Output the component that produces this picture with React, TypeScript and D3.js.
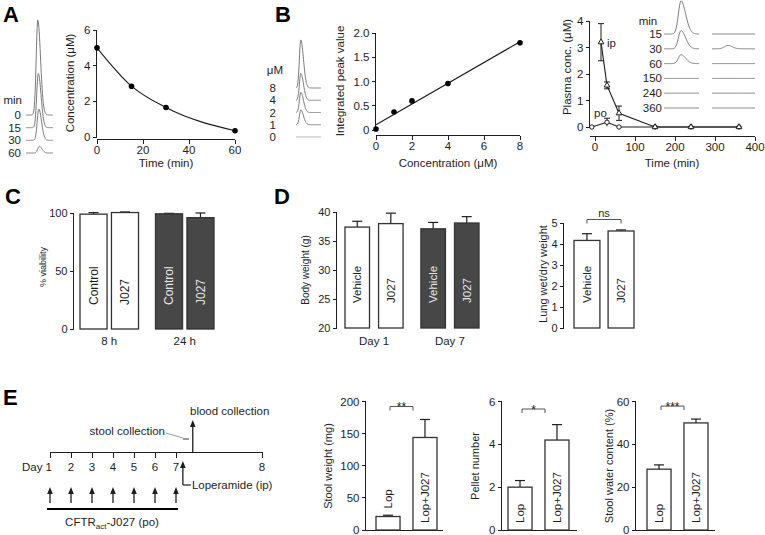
import React from "react";
import * as d3 from "d3";

const FONT = "'Liberation Sans', Arial, Helvetica, sans-serif";
const INK = "#1e1e1e";
const DARK = "#474747";
const TRACE = "#7a7a7a";

// ---------------- data ----------------
// Panel A: stability over time
const timeA = [0, 15, 30, 60];
const concA = [5.0, 2.85, 1.65, 0.35];
const traceLabelsA = ["0", "15", "30", "60"];

// Panel B: standard curve
const concB = [0, 1, 2, 4, 8];
const peakB = [0.02, 0.37, 0.6, 0.96, 1.8];
const traceLabelsB = ["8", "4", "2", "1", "0"];
const traceHeightsB = [1.0, 0.56, 0.42, 0.31, 0];

// Panel B: plasma pharmacokinetics
const timeIp = [15, 30, 60, 150, 240, 360];
const ipMean = [3.2, 1.57, 0.52, 0, 0, 0];
const ipErr = [0.7, 0.13, 0.27, 0, 0, 0];
const timePo = [-8, 30, 60, 150, 240, 360];
const poMean = [0, 0.18, 0, 0, 0, 0];
const poErr = [0, 0.15, 0, 0, 0, 0];
const plasmaTraceLabels = ["15", "30", "60", "150", "240", "360"];
const plasmaTraceIp = [1.0, 0.55, 0.27, 0, 0, 0];
const plasmaTracePo = [0, 0.1, 0, 0, 0, 0];

// Panel C: viability
const groupsC = ["8 h", "24 h"];
const condC = ["Control", "J027"];
const viabMean = [[99.0, 100.4], [99.3, 96.0]];
const viabErr = [[1.3, 0.5], [0.4, 4.0]];

// Panel D: body weight and lung
const groupsD = ["Day 1", "Day 7"];
const condD = ["Vehicle", "J027"];
const bwMean = [[37.4, 38.0], [37.1, 38.1]];
const bwErr = [[1.0, 1.8], [1.1, 1.1]];
const lungCond = ["Vehicle", "J027"];
const lungMean = [4.17, 4.62];
const lungErr = [0.32, 0.05];

// Panel E: protocol + constipation
const days = [1, 2, 3, 4, 5, 6, 7, 8];
const doseDays = [1, 2, 3, 4, 5, 6, 7];
const loperamideDay = 7.08;
const bloodDay = 7.195;
const stoolWindow = [7.08, 7.15];
const condE = ["Lop", "Lop+J027"];
const stoolMean = [21, 144];
const stoolErr = [2, 28];
const pelletMean = [2.0, 4.2];
const pelletErr = [0.31, 0.72];
const waterMean = [28.4, 50.0];
const waterErr = [2.0, 1.8];

// ---------------- helpers ----------------
type Lin = d3.ScaleLinear<number, number>;

function YAxis({ scale, x, ticks, fmt, fs = 11 }: { scale: Lin; x: number; ticks: number[]; fmt?: (v: number) => string; fs?: number }) {
  const [a, b] = scale.range();
  return (
    <g shapeRendering="crispEdges">
      <line x1={x} x2={x} y1={Math.min(a, b)} y2={Math.max(a, b)} stroke={INK} />
      {ticks.map((t) => (
        <g key={t}>
          <line x1={x - 4} x2={x} y1={scale(t)} y2={scale(t)} stroke={INK} />
          <text x={x - 6} y={scale(t)} dy="0.35em" textAnchor="end" fontSize={fs} fill={INK}>
            {fmt ? fmt(t) : String(t)}
          </text>
        </g>
      ))}
    </g>
  );
}

function XAxis({ scale, y, ticks, x0, x1, fs = 11 }: { scale: Lin; y: number; ticks: number[]; x0?: number; x1?: number; fs?: number }) {
  const [a, b] = scale.range();
  return (
    <g shapeRendering="crispEdges">
      <line x1={x0 ?? a} x2={x1 ?? b} y1={y} y2={y} stroke={INK} />
      {ticks.map((t) => (
        <g key={t}>
          <line x1={scale(t)} x2={scale(t)} y1={y} y2={y + 4} stroke={INK} />
          <text x={scale(t)} y={y + 6} dy="0.75em" textAnchor="middle" fontSize={fs} fill={INK}>
            {String(t)}
          </text>
        </g>
      ))}
    </g>
  );
}

function peakPath(x0: number, x1: number, xp: number, base: number, h: number, sigma: number, tail = 0.6) {
  const n = 90;
  const pts: [number, number][] = d3.range(n + 1).map((i) => {
    const x = x0 + ((x1 - x0) * i) / n;
    const dx = x - xp;
    const s = dx < 0 ? sigma : sigma * (1 + tail);
    return [x, base - h * Math.exp((-dx * dx) / (2 * s * s))];
  });
  return d3.line()(pts) || "";
}

function VLabel({ x, y, text, fs = 11, color = INK, anchor = "start", weight = "normal" }: any) {
  return (
    <text transform={`translate(${x},${y}) rotate(-90)`} textAnchor={anchor} dy="0.35em" fontSize={fs} fill={color} fontWeight={weight}>
      {text}
    </text>
  );
}

function Bar({ x, w, y0, y, err, fill, yScale }: any) {
  const top = yScale(y);
  const et = yScale(y + err);
  const cx = x + w / 2;
  return (
    <g>
      {err > 0 && (
        <g stroke={INK} strokeWidth={1.2}>
          <line x1={cx} x2={cx} y1={top} y2={et} />
          <line x1={cx - 5} x2={cx + 5} y1={et} y2={et} />
        </g>
      )}
      <rect x={x} y={top} width={w} height={y0 - top} fill={fill} stroke="#333" strokeWidth={1.3} />
    </g>
  );
}

function Bracket({ x1, x2, y, label, fs = 11, star = false }: any) {
  return (
    <g>
      <path d={`M${x1},${y + 4}V${y}H${x2}V${y + 4}`} fill="none" stroke="#555" strokeWidth={1} />
      <text x={(x1 + x2) / 2} y={star ? y + 5 : y - 3} textAnchor="middle" fontSize={star ? 12 : fs} fill={INK}>
        {label}
      </text>
    </g>
  );
}

function Arrow({ x, y1, y2, w = 1.3 }: any) {
  return (
    <g>
      <line x1={x} x2={x} y1={y1} y2={y2 + 5} stroke={INK} strokeWidth={w} />
      <path d={`M${x - 2.8},${y2 + 7}L${x},${y2}L${x + 2.8},${y2 + 7}Z`} fill={INK} />
    </g>
  );
}

// ---------------- panels ----------------
function PanelA() {
  const x = d3.scaleLinear().domain([0, 60]).range([97, 235]);
  const y = d3.scaleLinear().domain([0, 6]).range([137, 30]);
  const line = d3
    .line<number>()
    .x((_, i) => x(timeA[i]))
    .y((d) => y(d))
    .curve(d3.curveMonotoneX);
  const rowY = d3.scaleLinear().domain([0, traceLabelsA.length - 1]).range([115, 153]);
  const hScale = d3.scaleLinear().domain([0, 5]).range([0, 95]);
  return (
    <g>
      <text x={3} y={22} fontSize={22} fontWeight="bold" fill="#000">A</text>
      <text x={22} y={100} dy="0.35em" textAnchor="end" fontSize={11.5} fill={INK}>min</text>
      {traceLabelsA.map((l, i) => (
        <g key={l}>
          <text x={21} y={rowY(i)} dy="0.35em" textAnchor="end" fontSize={11.5} fill={INK}>{l}</text>
          <path d={peakPath(26, 53, 37.8 + i * 0.5, rowY(i), hScale(concA[i]), 1.6, 0.7)} fill="none" stroke={TRACE} strokeWidth={1} />
        </g>
      ))}
      <YAxis scale={y} x={96.5} ticks={[0, 2, 4, 6]} fs={11.5} />
      <XAxis scale={x} y={139.5} ticks={[0, 20, 40, 60]} fs={11.5} />
      <path d={line(concA) || ""} fill="none" stroke={INK} strokeWidth={1.1} />
      {concA.map((c, i) => (
        <circle key={i} cx={x(timeA[i])} cy={y(c)} r={2.8} fill="#000" />
      ))}
      <VLabel x={70} y={83} text="Concentration (μM)" anchor="middle" fs={11.5} />
      <text x={166} y={167} textAnchor="middle" fontSize={11.5} fill={INK}>Time (min)</text>
    </g>
  );
}

function PanelB() {
  const x = d3.scaleLinear().domain([0, 8]).range([376, 520]);
  const y = d3.scaleLinear().domain([0, 2]).range([130, 33]);
  const mx = d3.mean(concB)!;
  const my = d3.mean(peakB)!;
  const slope = d3.sum(concB, (c, i) => (c - mx) * (peakB[i] - my)) / d3.sum(concB, (c) => (c - mx) ** 2);
  const icpt = my - slope * mx;
  const rowY = d3.scaleLinear().domain([0, traceLabelsB.length - 1]).range([88, 137]);
  const hB = d3.scaleLinear().domain([0, 1]).range([0, 48]);
  return (
    <g>
      <text x={275} y={22} fontSize={22} fontWeight="bold" fill="#000">B</text>
      <text x={283} y={70} dy="0.35em" textAnchor="end" fontSize={11.5} fill={INK}>μM</text>
      {traceLabelsB.map((l, i) => (
        <g key={l}>
          <text x={276} y={rowY(i)} dy="0.35em" textAnchor="end" fontSize={11.5} fill={INK}>{l}</text>
          <path
            d={peakPath(296, 321, 300.8, rowY(i), hB(traceHeightsB[i]), 1.4, 0.9)}
            fill="none"
            stroke={traceHeightsB[i] > 0 ? TRACE : "#aaa"}
            strokeWidth={1}
          />
        </g>
      ))}
      <YAxis scale={y} x={375.5} ticks={[0, 0.5, 1, 1.5, 2]} fmt={(v) => (v === 0 ? "0" : v.toFixed(1))} fs={11.5} />
      <XAxis scale={x} y={135.5} ticks={[0, 2, 4, 6, 8]} fs={11.5} />
      <line x1={x(0)} x2={x(8)} y1={y(icpt)} y2={y(icpt + slope * 8)} stroke={INK} strokeWidth={1.1} />
      {peakB.map((p, i) => (
        <circle key={i} cx={x(concB[i])} cy={y(p)} r={2.8} fill="#000" />
      ))}
      <VLabel x={340} y={81} text="Integrated peak value" anchor="middle" fs={11.5} />
      <text x={448} y={167} textAnchor="middle" fontSize={11.5} fill={INK}>Concentration (μM)</text>
    </g>
  );
}

function PanelPlasma() {
  const x = d3.scaleLinear().domain([0, 400]).range([595, 755]);
  const y = d3.scaleLinear().domain([0, 4]).range([127, 21]);
  const ln = d3.line<[number, number]>().x((d) => x(d[0])).y((d) => y(d[1]));
  const tri = d3.symbol(d3.symbolTriangle).size(14)();
  const rowY = d3.scaleLinear().domain([0, plasmaTraceLabels.length - 1]).range([34, 108]);
  const hP = d3.scaleLinear().domain([0, 1]).range([0, 33]);
  return (
    <g>
      <text x={648} y={21} dy="0.35em" textAnchor="middle" fontSize={11.5} fill={INK}>min</text>
      {plasmaTraceLabels.map((l, i) => (
        <g key={l}>
          <text x={662} y={rowY(i)} dy="0.35em" textAnchor="end" fontSize={11.5} fill={INK}>{l}</text>
          <path d={peakPath(664, 699, 681, rowY(i), hP(plasmaTraceIp[i]), 2.6, 0.8)} fill="none" stroke={TRACE} strokeWidth={1} />
          <path d={peakPath(712, 755, 728, rowY(i), hP(plasmaTracePo[i]), 3.5, 0.2)} fill="none" stroke={TRACE} strokeWidth={1} />
        </g>
      ))}
      <YAxis scale={y} x={589.5} ticks={[0, 1, 2, 3, 4]} fs={11.5} />
      <XAxis scale={x} y={136.5} ticks={[0, 100, 200, 300, 400]} x0={590} fs={11.5} />
      <path d={ln(timePo.map((t, i) => [t, poMean[i]])) || ""} fill="none" stroke={INK} strokeWidth={1.1} />
      <path d={ln(timeIp.map((t, i) => [t, ipMean[i]])) || ""} fill="none" stroke={INK} strokeWidth={1.1} />
      {timeIp.map((t, i) =>
        ipErr[i] > 0 ? (
          <g key={"ie" + i} stroke={INK} strokeWidth={1}>
            <line x1={x(t)} x2={x(t)} y1={y(ipMean[i] - ipErr[i])} y2={y(ipMean[i] + ipErr[i])} />
            <line x1={x(t) - 3} x2={x(t) + 3} y1={y(ipMean[i] + ipErr[i])} y2={y(ipMean[i] + ipErr[i])} />
            <line x1={x(t) - 3} x2={x(t) + 3} y1={y(ipMean[i] - ipErr[i])} y2={y(ipMean[i] - ipErr[i])} />
          </g>
        ) : null
      )}
      {timePo.map((t, i) =>
        poErr[i] > 0 ? (
          <g key={"pe" + i} stroke={INK} strokeWidth={1}>
            <line x1={x(t)} x2={x(t)} y1={y(poMean[i] - poErr[i])} y2={y(poMean[i] + poErr[i])} />
            <line x1={x(t) - 3} x2={x(t) + 3} y1={y(poMean[i] + poErr[i])} y2={y(poMean[i] + poErr[i])} />
          </g>
        ) : null
      )}
      {timePo.map((t, i) => (
        <circle key={"pc" + i} cx={x(t)} cy={y(poMean[i])} r={2.2} fill="#fff" stroke={INK} strokeWidth={1} />
      ))}
      {timeIp.map((t, i) => (
        <path key={"it" + i} d={tri || ""} transform={`translate(${x(t)},${y(ipMean[i])})`} fill="#fff" stroke={INK} strokeWidth={1} />
      ))}
      <text x={607} y={43} dy="0.35em" fontSize={11.5} fill={INK}>ip</text>
      <text x={594} y={113} dy="0.35em" fontSize={11.5} fill={INK}>po</text>
      <VLabel x={567} y={67} text="Plasma conc.  (μM)" anchor="middle" fs={11.5} />
      <text x={672} y={167} textAnchor="middle" fontSize={11.5} fill={INK}>Time (min)</text>
    </g>
  );
}

function PanelC() {
  const y = d3.scaleLinear().domain([0, 100]).range([329, 213]);
  const g = d3.scaleBand().domain(groupsC).range([80, 214]).paddingInner(0.225);
  const inner = d3.scaleBand().domain(condC).range([0, g.bandwidth()]).paddingInner(0.14);
  return (
    <g>
      <text x={5} y={204} fontSize={22} fontWeight="bold" fill="#000">C</text>
      <YAxis scale={y} x={73.5} ticks={[0, 50, 100]} fs={11} />
      {groupsC.map((gr, gi) =>
        condC.map((c, ci) => {
          const bx = g(gr)! + inner(c)!;
          const dark = gi === 1;
          return (
            <g key={gr + c}>
              <Bar x={bx} w={inner.bandwidth()} y0={329} y={viabMean[gi][ci]} err={viabErr[gi][ci]} fill={dark ? DARK : "#fff"} yScale={y} />
              <VLabel x={bx + inner.bandwidth() / 2} y={305} text={c} fs={12} color={dark ? "#e6e6e6" : INK} />
            </g>
          );
        })
      )}
      {groupsC.map((gr) => (
        <text key={gr} x={g(gr)! + g.bandwidth() / 2} y={345} textAnchor="middle" fontSize={11.5} fill={INK}>{gr}</text>
      ))}
      <VLabel x={43} y={267} text="% viability" anchor="middle" fs={9} />
    </g>
  );
}

function PanelD() {
  const y = d3.scaleLinear().domain([20, 40]).range([328, 212]);
  const g = d3.scaleBand().domain(groupsD).range([345, 479]).paddingInner(0.235);
  const inner = d3.scaleBand().domain(condD).range([0, g.bandwidth()]).paddingInner(0.27);
  const yl = d3.scaleLinear().domain([0, 5]).range([328, 223]);
  const bl = d3.scaleBand().domain(lungCond).range([574, 634]).paddingInner(0.24);
  return (
    <g>
      <text x={274} y={204} fontSize={22} fontWeight="bold" fill="#000">D</text>
      <YAxis scale={y} x={336.5} ticks={[20, 25, 30, 35, 40]} fs={11} />
      {groupsD.map((gr, gi) =>
        condD.map((c, ci) => {
          const bx = g(gr)! + inner(c)!;
          const dark = gi === 1;
          return (
            <g key={gr + c}>
              <Bar x={bx} w={inner.bandwidth()} y0={328} y={bwMean[gi][ci]} err={bwErr[gi][ci]} fill={dark ? DARK : "#fff"} yScale={y} />
              <VLabel x={bx + inner.bandwidth() / 2} y={303} text={c} fs={11.5} color={dark ? "#e6e6e6" : INK} />
            </g>
          );
        })
      )}
      {groupsD.map((gr) => (
        <text key={gr} x={g(gr)! + g.bandwidth() / 2} y={345} textAnchor="middle" fontSize={11.5} fill={INK}>{gr}</text>
      ))}
      <VLabel x={305} y={270} text="Body weight  (g)" anchor="middle" fs={10} />

      <YAxis scale={yl} x={563.5} ticks={[0, 1, 2, 3, 4, 5]} fs={11} />
      {lungCond.map((c, i) => (
        <g key={c}>
          <Bar x={bl(c)!} w={bl.bandwidth()} y0={328} y={lungMean[i]} err={lungErr[i]} fill="#fff" yScale={yl} />
          <VLabel x={bl(c)! + bl.bandwidth() / 2} y={303} text={c} fs={11.5} />
        </g>
      ))}
      <Bracket x1={bl(lungCond[0])! + bl.bandwidth() / 2} x2={bl(lungCond[1])! + bl.bandwidth() / 2} y={219.5} label="ns" fs={11} />
      <VLabel x={543} y={274} text="Lung wet/dry weight" anchor="middle" fs={11} />
    </g>
  );
}

function SmallBar({ x0, yAxisX, axisEnd, domainMax, ticks, mean, err, sig, title, titleX }: any) {
  const y = d3.scaleLinear().domain([0, domainMax]).range([530, 401.5]);
  const b = d3.scaleBand().domain(condE).range([x0, x0 + 61]).paddingInner(0.35);
  const cx0 = b(condE[0])! + b.bandwidth() / 2;
  const cx1 = b(condE[1])! + b.bandwidth() / 2;
  const bracketY = y(d3.max(mean.map((m: number, i: number) => m + err[i]))!) - 13;
  return (
    <g>
      <YAxis scale={y} x={yAxisX} ticks={ticks} fs={11.5} />
      <line x1={yAxisX} x2={axisEnd} y1={530.5} y2={530.5} stroke={INK} shapeRendering="crispEdges" />
      {condE.map((c, i) => {
        const top = y(mean[i]);
        const inside = 530 - top > 35;
        return (
          <g key={c}>
            <Bar x={b(c)!} w={b.bandwidth()} y0={530} y={mean[i]} err={err[i]} fill="#fff" yScale={y} />
            <VLabel x={b(c)! + b.bandwidth() / 2} y={inside ? 523 : top - 8} text={c} fs={11.5} />
          </g>
        );
      })}
      <Bracket x1={cx0 + 2} x2={cx1 - 12} y={Math.min(bracketY, 409)} label={sig} star />
      <VLabel x={titleX} y={466} text={title} anchor="middle" fs={11} />
    </g>
  );
}

function PanelE() {
  const dx = d3.scaleLinear().domain([1, 7, 8]).range([50, 176, 262]);
  return (
    <g>
      <text x={3} y={405} fontSize={22} fontWeight="bold" fill="#000">E</text>
      <g shapeRendering="crispEdges">
        <line x1={dx(1)} x2={dx(8)} y1={452.5} y2={452.5} stroke={INK} />
        {days.map((d) => (
          <line key={d} x1={Math.round(dx(d)) + 0.5} x2={Math.round(dx(d)) + 0.5} y1={452} y2={458} stroke={INK} />
        ))}
      </g>
      {days.map((d) =>
        d === 1 ? (
          <text key={d} x={dx(d) + 2} y={467} dy="0.35em" textAnchor="end" fontSize={11.5} fill={INK}>Day 1</text>
        ) : (
          <text key={d} x={dx(d)} y={467} dy="0.35em" textAnchor="middle" fontSize={11.5} fill={INK}>{d}</text>
        )
      )}
      {doseDays.map((d) => (
        <Arrow key={d} x={dx(d)} y1={503} y2={487} />
      ))}
      <line x1={dx(1) - 3} x2={dx(7) + 2} y1={509} y2={509} stroke="#000" strokeWidth={2.2} />
      <text x={112} y={526} textAnchor="middle" fontSize={11.5} fill={INK}>
        CFTR<tspan fontSize={8} dy={3}>act</tspan>
        <tspan dy={-3}>-J027 (po)</tspan>
      </text>
      <Arrow x={dx(loperamideDay)} y1={485} y2={461} />
      <line x1={dx(loperamideDay)} x2={dx(loperamideDay) + 8} y1={485} y2={485} stroke={INK} strokeWidth={1.2} />
      <text x={dx(loperamideDay) + 9} y={485} dy="0.35em" fontSize={11.5} fill={INK}>Loperamide (ip)</text>
      <Arrow x={dx(bloodDay)} y1={452} y2={420} />
      <text x={190} y={411} dy="0.35em" fontSize={11.5} fill={INK}>blood collection</text>
      <text x={165} y={431} dy="0.35em" textAnchor="end" fontSize={11.5} fill={INK}>stool collection</text>
      <line x1={166} y1={433} x2={dx(stoolWindow[0])} y2={438} stroke="#999" strokeWidth={1} />
      <line x1={dx(stoolWindow[0])} x2={dx(stoolWindow[1])} y1={439} y2={439} stroke="#999" strokeWidth={2} />

      <SmallBar x0={376} yAxisX={365.5} axisEnd={443} domainMax={200} ticks={[0, 50, 100, 150, 200]} mean={stoolMean} err={stoolErr} sig="**" title="Stool weight (mg)" titleX={328} />
      <SmallBar x0={508} yAxisX={501.5} axisEnd={577} domainMax={6} ticks={[0, 2, 4, 6]} mean={pelletMean} err={pelletErr} sig="*" title="Pellet number" titleX={475} />
      <SmallBar x0={647} yAxisX={635.5} axisEnd={715} domainMax={60} ticks={[0, 20, 40, 60]} mean={waterMean} err={waterErr} sig="***" title="Stool water content  (%)" titleX={609} />
    </g>
  );
}

export default function App() {
  return (
    <svg
      width={765}
      height={535}
      viewBox="0 0 765 535"
      style={{ position: "absolute", left: 0, top: 0, background: "#fff" }}
      fontFamily={FONT}
    >
      <rect width={765} height={535} fill="#fff" />
      <PanelA />
      <PanelB />
      <PanelPlasma />
      <PanelC />
      <PanelD />
      <PanelE />
    </svg>
  );
}
